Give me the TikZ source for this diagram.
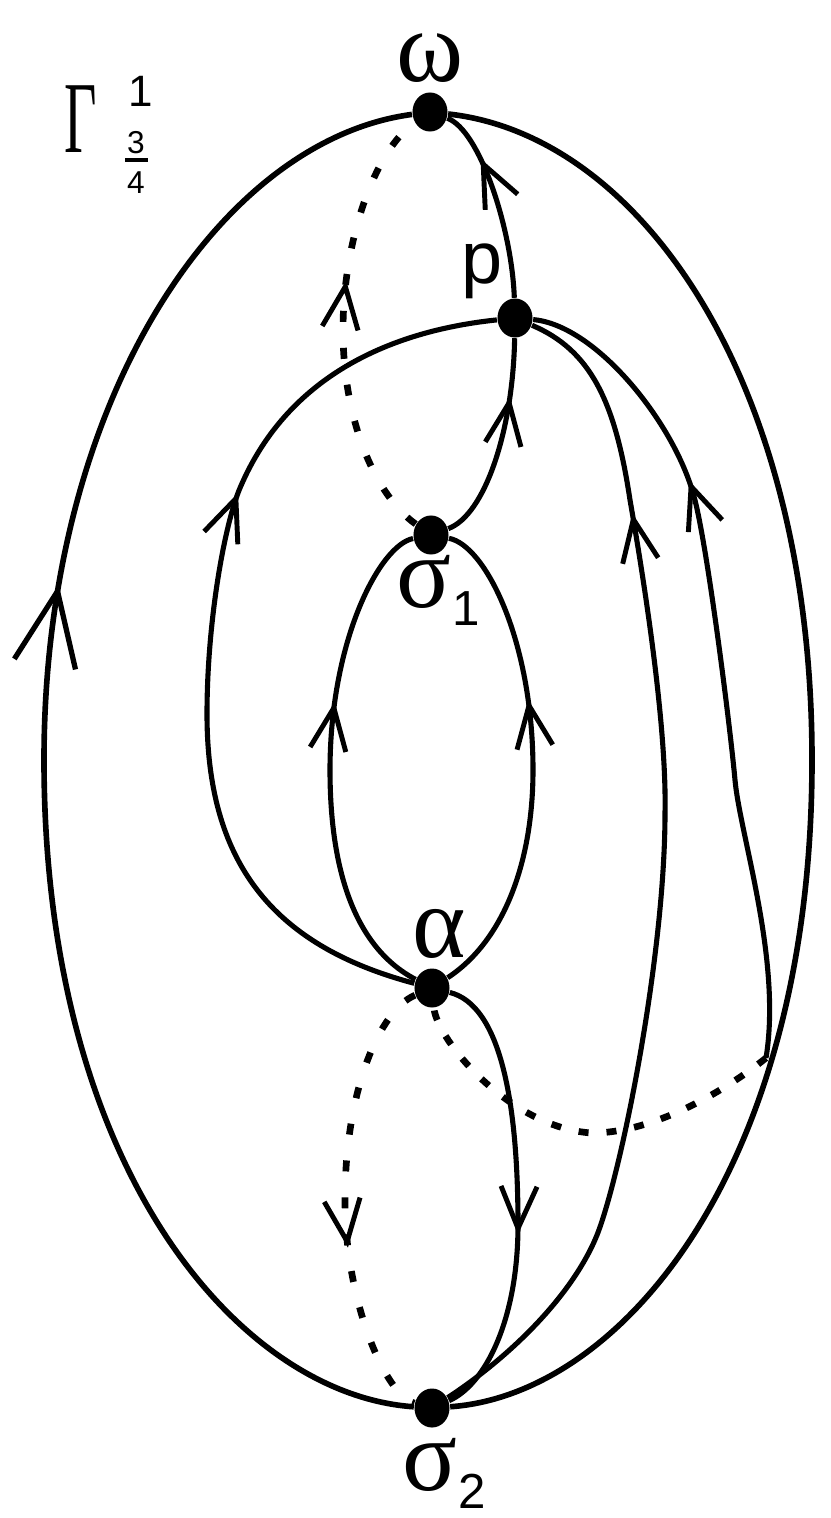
\documentclass[tikz,border=0pt]{standalone}
\usepackage{fontspec}
\setmainfont{Liberation Sans}
\newfontfamily\grk{Liberation Serif}
\usetikzlibrary{arrows.meta,decorations.markings,shapes.geometric}
\tikzset{
	dot/.style={ellipse,fill,inner sep=0pt,minimum width=0.35cm,minimum height=0.39cm},
	curve/.style={line width=1.45pt},
	outer/.style={line width=1.6pt},
	dotline/.style={line width=1.9pt,dash pattern=on 0.11cm off 0.26cm},
	dotshort/.style={line width=1.9pt,dash pattern=on 0.1cm off 0.18cm},
	arr/.style={postaction={decorate,decoration={markings,mark=at position #1 with {\arrow[line width=1.4pt]{Straight Barb[length=0.42cm,width=0.36cm]}}}}},
	bigarr/.style={postaction={decorate,decoration={markings,mark=at position #1 with {\arrow[line width=1.5pt]{Straight Barb[length=0.74cm,width=0.62cm]}}}}},
	greek/.style={inner sep=0pt,font=\grk\fontsize{29}{29}\selectfont},
	sub/.style={inner sep=0pt,font=\fontsize{14}{14}\selectfont},
}
\begin{document}
\begin{tikzpicture}[x=0.01cm,y=-0.01cm]
	\useasboundingbox(0,0)rectangle(830,1518);
	% points
	\node[dot](w)at(430,112){};
	\node[dot](p)at(515,318){};
	\node[dot](s1)at(431,535){};
	\node[dot](a)at(432,988){};
	\node[dot](s2)at(432,1408){};
	\coordinate(E)at(766,1058);
	% labels
	\node[greek](wl)at(430,58){ω};
	\node[inner sep=0pt,font=\fontsize{21}{21}\selectfont](pl)at(482,271){p};
	\node[greek](s1l)at(424,582){σ};
	\node[sub,anchor=base west](s1s)at([yshift=-0.18cm]s1l.base east){1};
	\node[greek](al)at(439,934){α};
	\node[greek](s2l)at(430,1465){σ};
	\node[sub,anchor=base west](s2s)at([yshift=-0.18cm]s2l.base east){2};
	\node[greek](G)at(81,119){\scalebox{0.55}[1]{Γ}};
	\node[inner sep=0pt,font=\fontsize{12.5}{12.5}\selectfont](Gsup)at(141,91){1};
	\node[inner sep=0pt,align=center,font=\fontsize{9}{11.4}\selectfont](Gfrac)at(136,162){3\\4};
	\draw[line width=1pt](125,160)--(148,160);
	% outer loop
	\draw[outer,bigarr=0.612](s2)..controls(240,1395)and(44,1170)..(44,760)..controls(44,400)and(220,140)..(w);
	\draw[outer](w)..controls(640,135)and(812,380)..(812,760)..controls(812,1170)and(620,1395)..(s2);
	% solid separatrices
	\draw[curve,arr=0.73](p)..controls(512,230)and(480,130)..(w);
	\draw[curve,arr=0.72](s1)..controls(485,515)and(513,430)..(p);
	\draw[curve,arr=0.645](a)..controls(270,945)and(207,860)..(207,714)..controls(207,620)and(225,523)..(240,488)..controls(290,370)and(400,330)..(p);
	\draw[curve,arr=0.62](a)..controls(350,945)and(330,860)..(330,770)..controls(330,640)and(380,545)..(s1);
	\draw[curve,arr=0.62](a)..controls(505,940)and(533,860)..(533,770)..controls(533,640)and(485,545)..(s1);
	\draw[curve,arr=0.585](a)..controls(500,1005)and(518,1100)..(518,1225)..controls(518,1320)and(485,1385)..(s2);
	\draw[curve,arr=0.81](s2)..controls(520,1350)and(580,1285)..(600,1227)..controls(625,1155)and(665,950)..(665,813)
		..controls(667,720)and(641,563)..(630,500)..controls(615,400)and(590,350)..(p);
	\draw[curve,arr=0.715](E)..controls(782,960)and(740,835)..(735,780)..controls(730,725)and(706,535)..(693,493)..controls(672,420)and(595,325)..(p);
	% dotted ones
	\draw[dotline,arr=0.6](s1)..controls(375,495)and(343,420)..(343,330)..controls(343,240)and(375,150)..(w);
	\draw[dotline,arr=0.61](a)..controls(380,1010)and(345,1090)..(345,1200)..controls(345,1300)and(385,1395)..(s2);
	\draw[dotshort](E)..controls(720,1095)and(650,1133)..(592,1133)..controls(510,1128)and(437,1040)..(a);
\end{tikzpicture}
\end{document}
